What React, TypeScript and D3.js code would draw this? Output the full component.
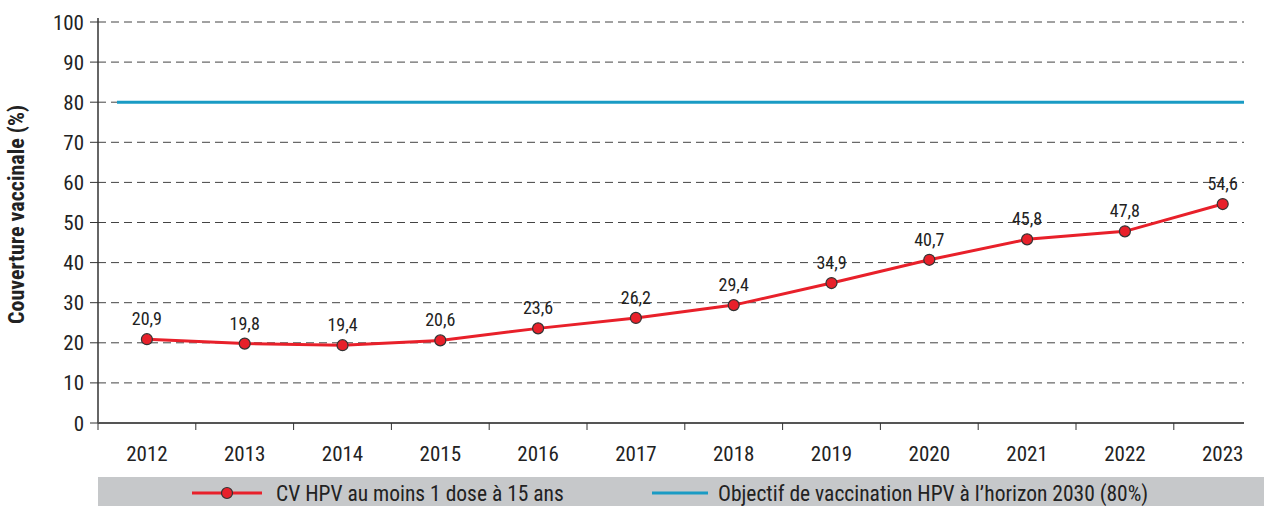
import React from "react";
import * as d3 from "d3";

const years = ["2012","2013","2014","2015","2016","2017","2018","2019","2020","2021","2022","2023"];
const coverage = [20.9,19.8,19.4,20.6,23.6,26.2,29.4,34.9,40.7,45.8,47.8,54.6];
const target = 80;
const yTicks = [0,10,20,30,40,50,60,70,80,90,100];
const seriesLabel = "CV HPV au moins 1 dose à 15 ans";
const targetLabel = "Objectif de vaccination HPV à l’horizon 2030 (80%)";
const yTitle = "Couverture vaccinale (%)";

const FONT = "'Liberation Sans Narrow', 'Arial Narrow', 'Roboto Condensed', sans-serif";

export default function App() {
  const W = 1264, H = 506;
  const left = 98, bandW = 97.8, axisEnd = 1244, top = 22, bottom = 423;
  const x = d3.scaleBand().domain(years).range([left, left + bandW * years.length]);
  const y = d3.scaleLinear().domain([0, 100]).range([bottom, top]);
  const cx = (yr: string) => (x(yr) as number) + x.bandwidth() / 2;
  const line = d3.line<number>().x((_, i) => cx(years[i])).y(d => y(d));
  const fmt = (v: number) => v.toFixed(1).replace(".", ",");
  return (
    <svg width={W} height={H} style={{ position: "absolute", left: 0, top: 0, display: "block" }} fontFamily={FONT}>
      <rect x={0} y={0} width={W} height={H} fill="#fff" />
      {yTicks.map(t => (
        <g key={t}>
          <line x1={90} x2={left} y1={y(t)} y2={y(t)} stroke="#333" strokeWidth={1} />
          {t > 0 && <line x1={left} x2={axisEnd} y1={y(t)} y2={y(t)} stroke="#444" strokeWidth={1} strokeDasharray="8,5" />}
          <text x={84} y={y(t)} dy="0.36em" textAnchor="end" fontSize={21} fill="#222">{t}</text>
        </g>
      ))}
      <line x1={left} x2={left} y1={top - 4} y2={bottom} stroke="#333" strokeWidth={1.5} />
      <line x1={left} x2={axisEnd} y1={bottom} y2={bottom} stroke="#555" strokeWidth={2} />
      {years.map(yr => (
        <g key={yr}>
          <line x1={(x(yr) as number)} x2={(x(yr) as number)} y1={bottom} y2={bottom + 7} stroke="#333" strokeWidth={1} />
          <text x={cx(yr)} y={461} textAnchor="middle" fontSize={21} fill="#222">{yr}</text>
        </g>
      ))}
      <text transform={`translate(24, ${(top + bottom) / 2 - 8}) rotate(-90)`} textAnchor="middle" fontSize={22} fontWeight="bold" fill="#222">{yTitle}</text>
      <line x1={117} x2={axisEnd} y1={y(target)} y2={y(target)} stroke="#1a9bc4" strokeWidth={3} />
      <path d={line(coverage) || ""} fill="none" stroke="#e8202a" strokeWidth={3} />
      {coverage.map((v, i) => (
        <g key={i}>
          <circle cx={cx(years[i])} cy={y(v)} r={5.5} fill="#e8202a" stroke="#333" strokeWidth={1.2} />
          <text x={cx(years[i])} y={y(v) - 14} textAnchor="middle" fontSize={18} fill="#222">{fmt(v)}</text>
        </g>
      ))}
      <rect x={98} y={477} width={W - 98} height={29} fill="#c6c8ca" />
      <line x1={192} x2={262} y1={493} y2={493} stroke="#e8202a" strokeWidth={3} />
      <circle cx={227} cy={493} r={5.5} fill="#e8202a" stroke="#333" strokeWidth={1.2} />
      <text x={276} y={493} dy="0.36em" fontSize={21.5} fill="#222">{seriesLabel}</text>
      <line x1={652} x2={708} y1={493} y2={493} stroke="#1a9bc4" strokeWidth={3} />
      <text x={718} y={493} dy="0.36em" fontSize={21.5} fill="#222">{targetLabel}</text>
    </svg>
  );
}
